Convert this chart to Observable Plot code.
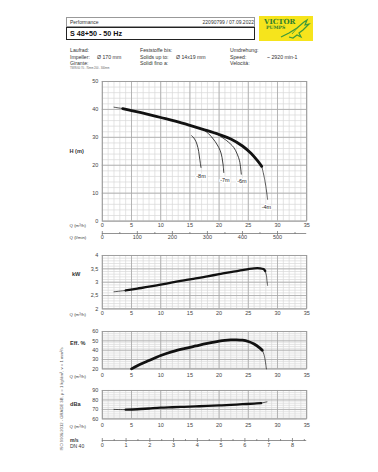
<!DOCTYPE html>
<html><head><meta charset="utf-8">
<script src="https://cdn.jsdelivr.net/npm/d3@7"></script>
<script src="https://cdn.jsdelivr.net/npm/@observablehq/plot@0.6"></script>
<style>
html,body{margin:0;padding:0;background:#fff;}
#page{position:relative;width:378px;height:472px;overflow:hidden;font-family:"Liberation Sans",Arial,sans-serif;color:#333;}
.t{position:absolute;white-space:nowrap;line-height:1;}
</style></head><body><div id="page"></div>
<script>
// ---------- data ----------
const qTicks = [0, 5, 10, 15, 20, 25, 30, 35];
const qMinor = d3.range(0, 36, 1);
const lminTicks = [0, 100, 200, 300, 400, 500];
const lminMinor = [50, 150, 250, 350, 450, 550];
const msTicks = [0, 1, 2, 3, 4, 5, 6, 7, 8];
const msMinor = [0.5, 1.5, 2.5, 3.5, 4.5, 5.5, 6.5, 7.5, 8.5];

const headTicks = [0, 10, 20, 30, 40, 50];
const powTicks = [2, 2.5, 3, 3.5, 4];
const effTicks = [20, 30, 40, 50, 60];
const dbTicks = [60, 70, 80, 90];

// head curve H (m) vs Q (m3/h)
const headStartQ = [2.0, 3.5];
const headStartH = [40.8, 40.3];
const headQ = [3.5, 5, 7.5, 10, 12.5, 15, 17.5, 20, 22, 24, 25.5, 26.5, 27.3];
const headH = [40.3, 39.6, 38.4, 37.1, 35.8, 34.3, 32.7, 31.0, 29.4, 26.9, 24.2, 21.8, 19.6];
// suction lift curves
const lift4Q = [27.3, 27.7, 28.0, 28.2, 28.3];
const lift4H = [19.6, 16.0, 12.5, 9.5, 7.8];
const lift6Q = [19.6, 21.3, 22.5, 23.1, 23.5, 23.8];
const lift6H = [31.2, 28.8, 26.4, 24.0, 21.6, 16.8];
const lift7Q = [17.2, 18.2, 19.0, 19.6, 20.2, 20.5, 20.7, 20.8];
const lift7H = [32.9, 31.3, 29.4, 27.6, 25.2, 22.8, 20.0, 17.4];
const lift8Q = [15.3, 15.8, 16.2, 16.5, 16.7, 16.9];
const lift8H = [30.6, 29.4, 27.6, 25.0, 22.0, 19.2];
const liftLabels = ["-8m", "-7m", "-6m", "-4m"];
const liftLabelQ = [16.9, 21.0, 23.9, 28.1];
const liftLabelH = [15.9, 14.8, 14.1, 5.1];

// power kW
const powStartQ = [2, 4];
const powStartP = [2.64, 2.69];
const powQ = [4, 6, 8, 10, 12, 14, 16, 18, 20, 22, 24, 25, 26, 27, 27.6, 27.9];
const powP = [2.69, 2.76, 2.83, 2.91, 2.99, 3.07, 3.14, 3.22, 3.30, 3.38, 3.45, 3.49, 3.52, 3.52, 3.49, 3.42];
const powTailQ = [27.9, 28.1, 28.2, 28.3];
const powTailP = [3.42, 3.25, 3.05, 2.88];

// efficiency %
const effQ = [5, 6, 7, 8, 10, 12, 14, 16, 18, 20, 21, 22, 23, 24, 25, 26, 27, 27.4];
const effE = [20, 23.3, 26.3, 29, 34.3, 38.5, 41.7, 44.5, 47.2, 49.6, 50.5, 51, 51.1, 50.7, 49.3, 46.6, 42.3, 40];
const effTailQ = [27.4, 27.7, 27.9, 28.1];
const effTailE = [40, 35, 29, 20];

// noise dBa
const dbStartQ = [2, 4];
const dbStartV = [70, 69.7];
const dbQ = [4, 6, 8, 10, 12, 14, 16, 18, 20, 22, 24, 26, 27.2];
const dbV = [69.7, 70.2, 71.0, 71.8, 72.3, 72.8, 73.2, 73.7, 74.2, 74.8, 75.5, 76.2, 76.7];
const dbTailQ = [27.2, 28.2];
const dbTailV = [76.7, 78];

// ---------- helpers ----------
const page = document.getElementById("page");
const FONT = '"Liberation Sans", Arial, sans-serif';
const ML = 101.8, MR = 378 - 306.2;
const zip = (a, b) => a.map((v, i) => [v, b[i]]);
const comma = d => String(d).replace(".", ",");

function txt(s, x, y, size, opts = {}) {
  const d = document.createElement("div");
  d.className = "t";
  d.textContent = s;
  d.style.left = x + "px";
  d.style.top = (y - size / 2) + "px";
  d.style.fontSize = size + "px";
  if (opts.bold) d.style.fontWeight = "bold";
  if (opts.color) d.style.color = opts.color;
  if (opts.right) { d.style.left = "auto"; d.style.right = (378 - x) + "px"; }
  page.appendChild(d);
  return d;
}

function place(svg, top) {
  svg.style.position = "absolute";
  svg.style.left = "0px";
  svg.style.top = top + "px";
  page.appendChild(svg);
}

function panel({plotTop, plotBottom, yDomain, yTicks, yMinor, yMajor, fmt, xdy, marks}) {
  const mt = 6, mb = 12;
  const svg = Plot.plot({
    width: 378,
    height: (plotBottom - plotTop) + mt + mb,
    marginLeft: ML, marginRight: MR, marginTop: mt, marginBottom: mb,
    style: {fontFamily: FONT, fontSize: "5.5px", background: "transparent", color: "#444", overflow: "visible"},
    x: {domain: [0, 35], axis: null},
    y: {domain: yDomain, axis: null},
    marks: [
      Plot.ruleX(qMinor, {stroke: "#d9d9d9", strokeWidth: 0.7}),
      Plot.ruleY(yMinor, {stroke: "#d9d9d9", strokeWidth: 0.7}),
      Plot.ruleX(qTicks, {stroke: "#a8a8a8", strokeWidth: 0.8}),
      Plot.ruleY(yMajor, {stroke: "#a8a8a8", strokeWidth: 0.8}),
      Plot.frame({stroke: "#999", strokeWidth: 0.8}),
      Plot.text(qTicks, {x: d => d, frameAnchor: "bottom", dy: xdy, fill: "#444"}),
      Plot.text(yTicks, {y: d => d, frameAnchor: "left", dx: -4, textAnchor: "end", text: fmt, fill: "#444"}),
      ...marks
    ]
  });
  place(svg, plotTop - mt);
}

const thin = {stroke: "#111", strokeWidth: 0.7, strokeDasharray: "1.5,0.8", curve: "catmull-rom"};
const lift = {stroke: "#111", strokeWidth: 0.8, curve: "catmull-rom"};

// ---------- header ----------
const box1 = document.createElement("div");
Object.assign(box1.style, {position: "absolute", left: "66px", top: "17px", width: "189px", height: "10px", border: "0.8px solid #999", boxSizing: "border-box"});
page.appendChild(box1);
const box2 = document.createElement("div");
Object.assign(box2.style, {position: "absolute", left: "66px", top: "27px", width: "189px", height: "13px", border: "1px solid #222", boxSizing: "border-box"});
page.appendChild(box2);
txt("Performance", 70, 22.2, 5);
txt("22090799 / 07.09.2022", 254, 22.2, 5, {right: true});
txt("S 48+50 - 50 Hz", 70, 33.8, 7.2, {bold: true, color: "#111"});

// logo
const logo = document.createElement("div");
Object.assign(logo.style, {position: "absolute", left: "259px", top: "16px", width: "54px", height: "25px", background: "#f6e41c"});
logo.innerHTML = '<svg width="54" height="25" style="position:absolute;left:0;top:0">' +
  '<path d="M22 21 L30 17 L38 12 L45 6 L48 4 L46 9 L50 8 L44 14 L40 17 L42 21 L38 19 L34 22 L30 21" fill="none" stroke="#3d9a3a" stroke-width="1.2"/>' +
  '<path d="M33 18 L40 10" stroke="#3d9a3a" stroke-width="0.8"/></svg>';
page.appendChild(logo);
const v1 = txt("VICTOR", 264, 21.5, 7, {bold: true, color: "#2f7f2c"});
v1.style.fontFamily = '"DejaVu Serif", serif';
const v2 = txt("PUMPS", 266, 28, 4.6, {bold: true, color: "#2f7f2c"});
v2.style.fontFamily = '"DejaVu Serif", serif';

// info rows
const infoCol1 = ["Laufrad:", "Impeller:", "Girante:"];
const infoCol2 = ["Feststoffe bis:", "Solids up to:", "Solidi fino a:"];
const infoCol3 = ["Umdrehung:", "Speed:", "Velocità:"];
const rowsY = [50.7, 57.5, 63.4];
infoCol1.forEach((s, i) => txt(s, 70, rowsY[i], 5.2));
infoCol2.forEach((s, i) => txt(s, 140, rowsY[i], 5.2));
infoCol3.forEach((s, i) => txt(s, 230, rowsY[i], 5.2));
txt("Ø 170 mm", 97, rowsY[1], 5.2);
txt("Ø 14x19 mm", 176, rowsY[1], 5.2);
txt("~ 2920 min-1", 267, rowsY[1], 5.2);
txt("TWIN 60 70 - 70mm 200 - 300mm", 70, 69.4, 2.6, {color: "#666"});

// ---------- head panel ----------
panel({
  plotTop: 80.7, plotBottom: 220.3, yDomain: [0, 50],
  yTicks: headTicks, yMajor: headTicks, yMinor: d3.range(0, 51, 2), fmt: d => d, xdy: 5.8,
  marks: [
    Plot.line(zip(lift8Q, lift8H), lift),
    Plot.line(zip(lift7Q, lift7H), lift),
    Plot.line(zip(lift6Q, lift6H), lift),
    Plot.line(zip(lift4Q, lift4H), thin),
    Plot.line(zip(headStartQ, headStartH), thin),
    Plot.line(zip(headQ, headH), {stroke: "#111", strokeWidth: 2.8, curve: "catmull-rom"}),
    Plot.text(liftLabels, {x: (d, i) => liftLabelQ[i], y: (d, i) => liftLabelH[i], text: d => d, fill: "#222", stroke: "white", strokeWidth: 2.5, paintOrder: "stroke", fontSize: 5.5})
  ]
});
txt("H (m)", 69.5, 151.7, 5.6, {bold: true, color: "#333"});
txt("Q (m³/h)", 69.5, 226, 4.4, {color: "#444"});
txt("Q (l/min)", 69.5, 238.3, 4.4, {color: "#444"});

// l/min secondary axis
{
  const top = 230.6, bottom = 234.6, mt = 2, mb = 8;
  const svg = Plot.plot({
    width: 378, height: (bottom - top) + mt + mb,
    marginLeft: ML, marginRight: MR, marginTop: mt, marginBottom: mb,
    style: {fontFamily: FONT, fontSize: "5.5px", background: "transparent", color: "#444", overflow: "visible"},
    x: {domain: [0, 35 * 1000 / 60], axis: null},
    y: {domain: [-1, 1], axis: null},
    marks: [
      Plot.ruleY([0], {stroke: "#777", strokeWidth: 0.8}),
      Plot.ruleX(lminTicks, {y1: -1, y2: 1, stroke: "#777", strokeWidth: 0.8}),
      Plot.ruleX(lminMinor, {y1: -0.5, y2: 0.5, stroke: "#777", strokeWidth: 0.8}),
      Plot.text(lminTicks, {x: d => d, frameAnchor: "bottom", dy: 3.8, fill: "#444"})
    ]
  });
  place(svg, top - mt);
}

// ---------- power panel ----------
panel({
  plotTop: 255.3, plotBottom: 308.7, yDomain: [2, 4],
  yTicks: powTicks, yMajor: powTicks, yMinor: d3.range(2, 4.01, 0.1), fmt: comma, xdy: 6.3,
  marks: [
    Plot.line(zip(powStartQ, powStartP), thin),
    Plot.line(zip(powTailQ, powTailP), thin),
    Plot.line(zip(powQ, powP), {stroke: "#111", strokeWidth: 2.3, curve: "catmull-rom"})
  ]
});
txt("kW", 72, 275, 5.6, {bold: true, color: "#333"});
txt("Q (m³/h)", 69.5, 315, 4.4, {color: "#444"});

// ---------- efficiency panel ----------
panel({
  plotTop: 331.3, plotBottom: 368.7, yDomain: [20, 60],
  yTicks: effTicks, yMajor: effTicks, yMinor: d3.range(20, 61, 2), fmt: d => d, xdy: 8,
  marks: [
    Plot.line(zip(effTailQ, effTailE), thin),
    Plot.line(zip(effQ, effE), {stroke: "#111", strokeWidth: 2.8, curve: "catmull-rom"})
  ]
});
txt("Eff. %", 70, 344, 5.6, {bold: true, color: "#333"});
txt("Q (m³/h)", 69.5, 376.7, 4.4, {color: "#444"});

// ---------- noise panel ----------
panel({
  plotTop: 390.3, plotBottom: 418.7, yDomain: [60, 90],
  yTicks: dbTicks, yMajor: dbTicks, yMinor: d3.range(60, 91, 2), fmt: d => d, xdy: 8,
  marks: [
    Plot.line(zip(dbStartQ, dbStartV), thin),
    Plot.line(zip(dbTailQ, dbTailV), thin),
    Plot.line(zip(dbQ, dbV), {stroke: "#111", strokeWidth: 2.3, curve: "catmull-rom"})
  ]
});
txt("dBa", 70, 404.3, 5.6, {bold: true, color: "#333"});
txt("Q (m³/h)", 69.5, 426.7, 4.4, {color: "#444"});

// m/s axis
{
  const top = 438, bottom = 442, mt = 2, mb = 8;
  const svg = Plot.plot({
    width: 378, height: (bottom - top) + mt + mb,
    marginLeft: ML, marginRight: MR, marginTop: mt, marginBottom: mb,
    style: {fontFamily: FONT, fontSize: "5.5px", background: "transparent", color: "#444", overflow: "visible"},
    x: {domain: [0, 8.6], axis: null},
    y: {domain: [-1, 1], axis: null},
    marks: [
      Plot.ruleY([0], {stroke: "#777", strokeWidth: 0.8}),
      Plot.ruleX(msTicks, {y1: -1, y2: 1, stroke: "#777", strokeWidth: 0.8}),
      Plot.ruleX(msMinor, {y1: -0.5, y2: 0.5, stroke: "#777", strokeWidth: 0.8}),
      Plot.text(msTicks, {x: d => d, frameAnchor: "bottom", dy: 4.7, fill: "#444"})
    ]
  });
  place(svg, top - mt);
}
txt("m/s", 70, 440, 5, {bold: true, color: "#333"});
txt("DN 40", 70, 446.7, 5, {color: "#333"});

// rotated norm text
{
  const d = document.createElement("div");
  d.className = "t";
  d.textContent = "ISO 9906:2012 - GRADE 3B, ρ = 1 kg/dm³, ν = 1 mm²/s";
  Object.assign(d.style, {fontSize: "4.2px", color: "#555", left: "62px", top: "399px", transform: "translate(-50%,-50%) rotate(-90deg)"});
  page.appendChild(d);
}
</script></body></html>
